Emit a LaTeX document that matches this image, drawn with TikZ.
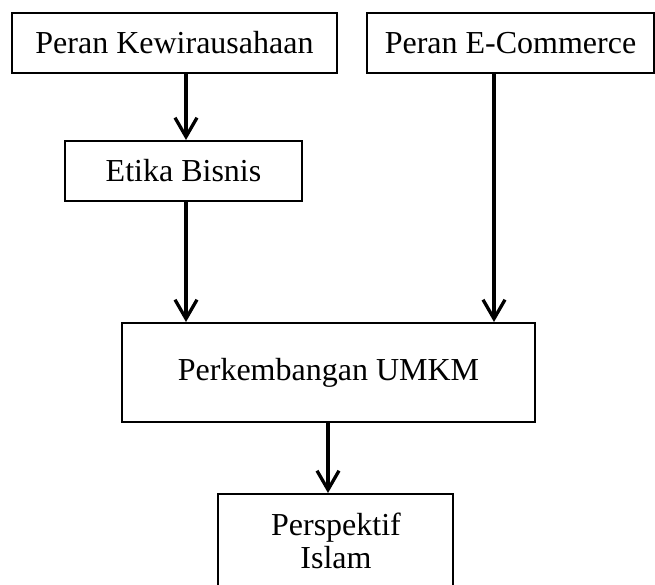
\documentclass[tikz,border=0pt]{standalone}
\usepackage{fontspec}
\setmainfont{Liberation Serif}
\usetikzlibrary{arrows.meta}
\begin{document}
\begin{tikzpicture}[x=1pt,y=-1pt,
  box/.style={draw=black, line width=2pt, rectangle, inner sep=0pt, font=\fontsize{32}{33}\selectfont, text=black},
  arr/.style={line width=3.3pt, -{Straight Barb[length=19pt,width=22pt]}}]
\useasboundingbox (0,0) rectangle (655,585);
\node[box, minimum width=325pt, minimum height=60pt] (pk) at (174.5,43) {Peran Kewirausahaan};
\node[box, minimum width=287pt, minimum height=60pt] (ec) at (510.5,43) {Peran E-Commerce};
\node[box, minimum width=237pt, minimum height=60pt] (eb) at (183.5,171) {Etika Bisnis};
\node[box, minimum width=413pt, minimum height=99pt] (um) at (328.5,372.5) {Perkembangan UMKM};
\node[box, minimum width=235pt, minimum height=100pt] (pi) at (335.5,544) {};
\node[anchor=north, inner sep=0pt, align=center, font=\fontsize{32}{33}\selectfont] (pit) at (336,513) {Perspektif\\Islam};
\coordinate (xa) at (186,0);
\coordinate (xb) at (494,0);
\coordinate (xc) at (328,0);
\draw[arr] (pk.south -| xa) -- (eb.north -| xa);
\draw[arr] (eb.south -| xa) -- (um.north -| xa);
\draw[arr] (ec.south -| xb) -- (um.north -| xb);
\draw[arr] (um.south -| xc) -- (pi.north -| xc);
\end{tikzpicture}
\end{document}
